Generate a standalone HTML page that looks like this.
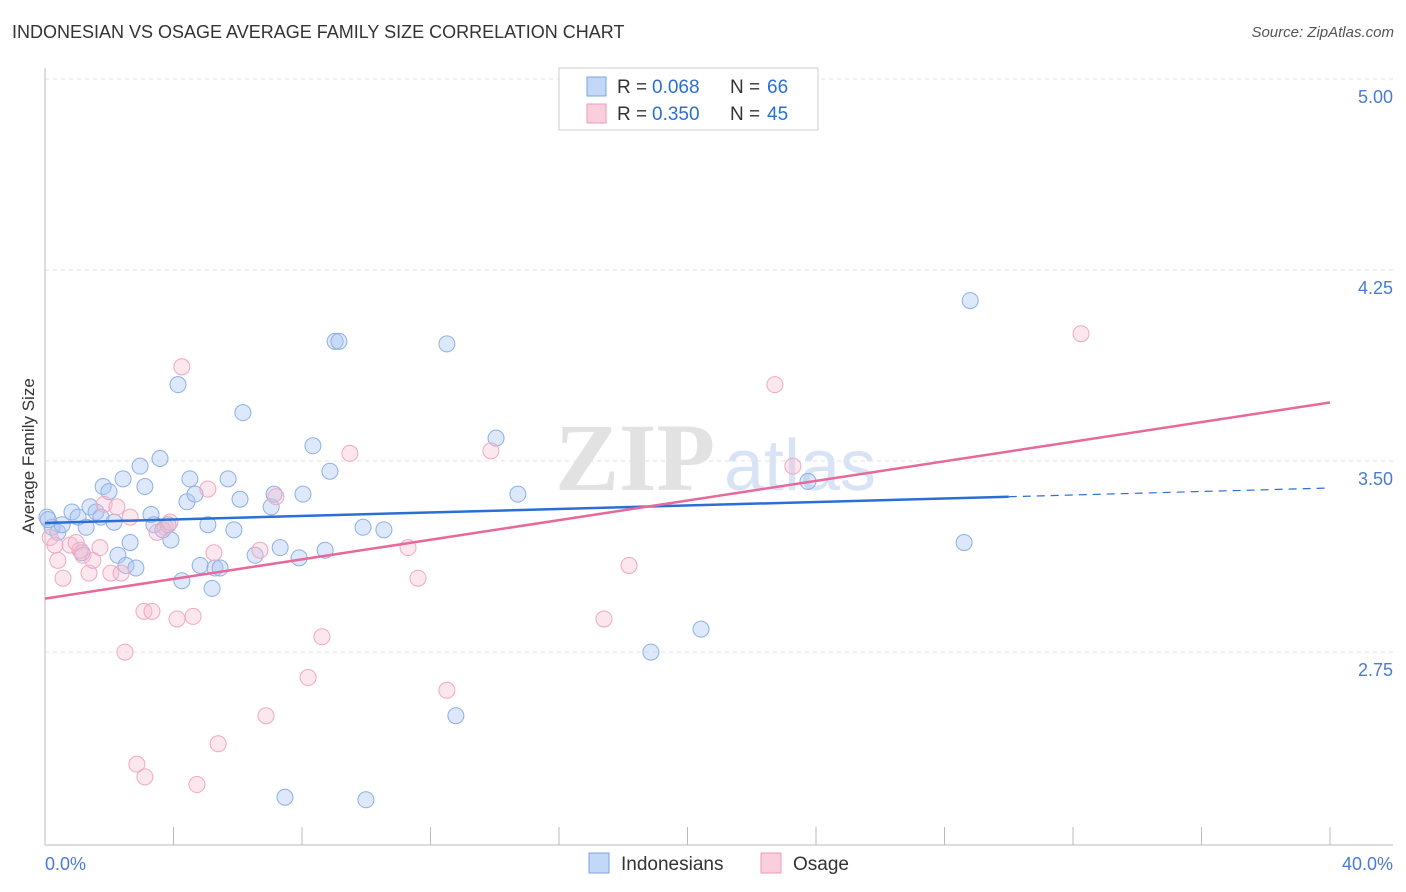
<!DOCTYPE html>
<html><head><meta charset="utf-8"><style>
body{margin:0;background:#fff;font-family:"Liberation Sans",sans-serif;}
#wrap{position:relative;width:1406px;height:892px;overflow:hidden;}
.t{position:absolute;white-space:nowrap;}
</style></head><body>
<div id="wrap">
<div class="t" style="left:12px;top:22px;font-size:18px;color:#333;">INDONESIAN VS OSAGE AVERAGE FAMILY SIZE CORRELATION CHART</div>
<div class="t" style="right:12px;top:24px;font-size:15px;color:#555;font-style:italic;">Source: ZipAtlas.com</div>
<svg id="svg" width="1406" height="892" style="position:absolute;left:0;top:0;"></svg>
</div>
<script>
const blueX=[0.06,0.22,0.40,0.53,0.84,1.03,1.15,1.28,1.40,1.59,1.74,1.81,1.99,2.15,2.27,2.43,2.52,2.65,2.83,2.96,3.11,3.30,3.39,3.58,3.67,3.83,3.92,4.14,4.26,4.42,4.51,4.67,4.83,5.07,5.20,5.29,5.45,5.70,5.88,6.07,6.16,6.54,7.04,7.13,7.32,7.47,7.91,8.03,8.34,8.72,8.87,9.03,9.15,9.90,9.99,10.55,12.51,12.79,14.04,14.72,18.86,20.42,23.75,28.61,28.80,0.1];
const blueY=[3.28,3.24,3.22,3.25,3.30,3.28,3.14,3.24,3.32,3.30,3.28,3.40,3.38,3.26,3.13,3.43,3.09,3.18,3.08,3.48,3.40,3.29,3.25,3.51,3.23,3.25,3.19,3.80,3.03,3.34,3.43,3.37,3.09,3.25,3.00,3.08,3.08,3.43,3.23,3.35,3.69,3.13,3.32,3.37,3.16,2.18,3.12,3.37,3.56,3.15,3.46,3.97,3.97,3.24,2.17,3.23,3.96,2.50,3.59,3.37,2.75,2.84,3.42,3.18,4.13,3.27];
const pinkX=[0.16,0.31,0.40,0.56,0.78,0.97,1.09,1.18,1.37,1.49,1.71,1.84,2.05,2.24,2.37,2.49,2.65,2.86,3.08,3.11,3.33,3.49,3.74,3.89,4.11,4.26,4.61,4.73,5.07,5.26,5.39,6.69,6.88,7.19,8.19,8.62,9.49,11.30,11.61,12.51,13.88,17.40,18.18,22.72,23.28,32.25];
const pinkY=[3.20,3.17,3.11,3.04,3.17,3.18,3.15,3.13,3.06,3.11,3.16,3.33,3.06,3.32,3.06,2.75,3.28,2.31,2.91,2.26,2.91,3.22,3.24,3.26,2.88,3.87,2.89,2.23,3.39,3.14,2.39,3.15,2.50,3.36,2.65,2.81,3.53,3.16,3.04,2.60,3.54,2.88,3.09,3.80,3.48,4.00];
const yTicks=[5.00,4.25,3.50,2.75];
const xTickLabels=["0.0%","40.0%"];
const blueTrend=[3.257,0.00343];
const pinkTrend=[2.96,0.01925];
const L=45,R=1330,T=79;
const X=v=>L+v/40*(R-L);
const Y=v=>T+(5-v)*254.7;
const svg=document.getElementById('svg');
const NS='http://www.w3.org/2000/svg';
function mk(tag,a){const e=document.createElementNS(NS,tag);for(const k in a)e.setAttribute(k,a[k]);svg.appendChild(e);return e;}
yTicks.forEach(v=>{
 const g=mk('line',{x1:L,x2:1393,y1:Y(v),y2:Y(v),stroke:'#e2e2e2','stroke-dasharray':'4,4'});
 
 
 const t=mk('text',{x:1393,y:Y(v)+24,'text-anchor':'end','font-size':18,fill:'#4a7bd4'});
 t.textContent=v.toFixed(2);
 
 
});
let ax=mk('line',{x1:L,x2:L,y1:68,y2:845,stroke:'#bbb'});

let bx=mk('line',{x1:L,x2:1393,y1:845,y2:845,stroke:'#bbb'});

for(let i=0;i<=10;i++){const tk=mk('line',{x1:X(i*4),x2:X(i*4),y1:827,y2:845,stroke:'#bbb'});
 }
let xl0=mk('text',{x:45,y:870,'font-size':18,fill:'#4a7bd4'});xl0.textContent=xTickLabels[0];

let xl1=mk('text',{x:1393,y:870,'font-size':18,fill:'#4a7bd4','text-anchor':'end'});xl1.textContent=xTickLabels[1];

let yt=mk('text',{x:34,y:456,'font-size':17,fill:'#333','text-anchor':'middle',transform:'rotate(-90 34 456)'});yt.textContent='Average Family Size';

let w1=mk('text',{x:635,y:490,'font-size':96,fill:'#e2e2e2','text-anchor':'middle','font-family':'Liberation Serif','font-weight':'bold'});w1.textContent='ZIP';

let w2=mk('text',{x:800,y:490,'font-size':72,fill:'#d8e4f5','text-anchor':'middle'});w2.textContent='atlas';

blueX.forEach((x,i)=>{const c=mk('circle',{cx:X(x),cy:Y(blueY[i]),r:8,fill:'rgba(170,198,242,0.4)',stroke:'#8cb0e6','stroke-width':1});
 });
pinkX.forEach((x,i)=>{const c=mk('circle',{cx:X(x),cy:Y(pinkY[i]),r:8,fill:'rgba(247,185,206,0.35)',stroke:'#f0a8c0','stroke-width':1});
 });
let bl=mk('line',{x1:X(0),y1:Y(blueTrend[0]),x2:X(30),y2:Y(blueTrend[0]+blueTrend[1]*30),stroke:'#2a6fd6','stroke-width':2.5});

let bd=mk('line',{x1:X(30),y1:Y(blueTrend[0]+blueTrend[1]*30),x2:X(40),y2:Y(blueTrend[0]+blueTrend[1]*40),stroke:'#2a6fd6','stroke-width':1.2,'stroke-dasharray':'8,6'});

let pl=mk('line',{x1:X(0),y1:Y(pinkTrend[0]),x2:X(40),y2:Y(pinkTrend[0]+pinkTrend[1]*40),stroke:'#e8689a','stroke-width':2.5});

let lg=mk('rect',{x:559,y:68,width:259,height:62,fill:'#fff',stroke:'#ccc'});

[[0,'rgba(170,198,242,0.7)','#7ea6e0','0.068','66'],[1,'rgba(247,185,206,0.7)','#ee9ab5','0.350','45']].forEach(d=>{
 const y=77+d[0]*27;
 const s=mk('rect',{x:587,y:y,width:19,height:19,fill:d[1],stroke:d[2]});
 
 const t1=mk('text',{x:617,y:y+16,'font-size':19,fill:'#333'});t1.textContent='R =';
 
 const t2=mk('text',{x:652,y:y+16,'font-size':19,fill:'#2a6fd6'});t2.textContent=d[3];
 
 const t3=mk('text',{x:730,y:y+16,'font-size':19,fill:'#333'});t3.textContent='N =';
 
 const t4=mk('text',{x:767,y:y+16,'font-size':19,fill:'#2a6fd6'});t4.textContent=d[4];
 
});
[[589,'rgba(170,198,242,0.7)','#7ea6e0','Indonesians'],[761,'rgba(247,185,206,0.7)','#ee9ab5','Osage']].forEach(d=>{
 const s=mk('rect',{x:d[0],y:853,width:20,height:20,fill:d[1],stroke:d[2]});
 
 const t=mk('text',{x:d[0]+32,y:870,'font-size':19,fill:'#333'});t.textContent=d[3];
 
});
</script>
</body></html>
